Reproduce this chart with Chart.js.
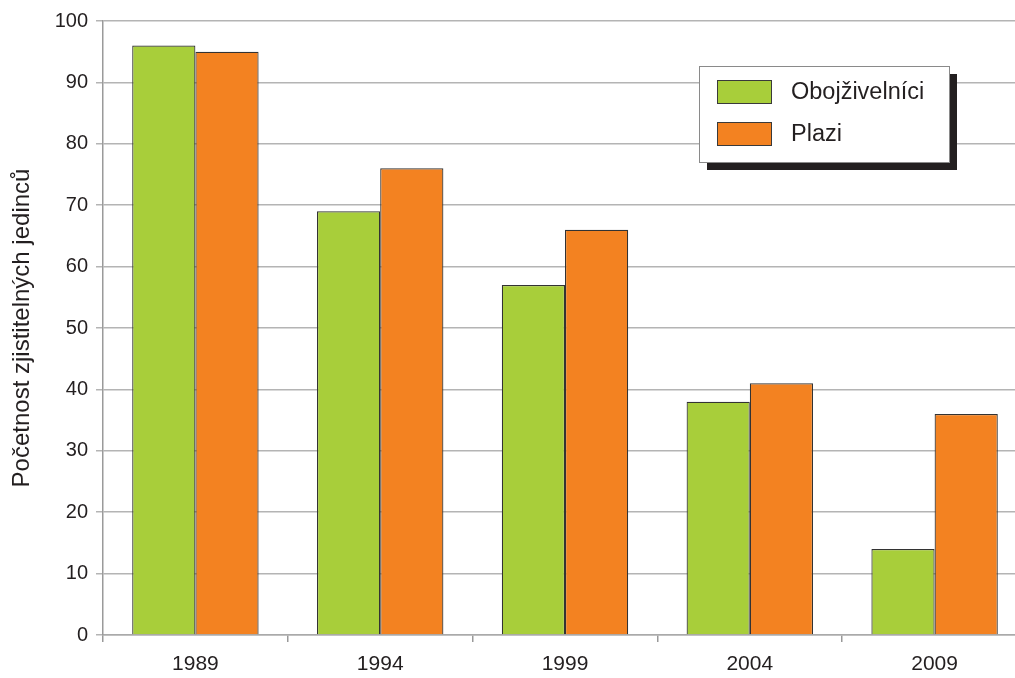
<!DOCTYPE html>
<html>
<head>
<meta charset="utf-8">
<script src="https://cdn.jsdelivr.net/npm/chart.js@4.4.1/dist/chart.umd.min.js"></script>
<style>
  html, body { margin: 0; padding: 0; background: #fff; overflow: hidden; }
  #wrap { position: relative; width: 1028px; height: 678px; }
</style>
</head>
<body>
<div id="wrap"><canvas id="c" width="1028" height="678"></canvas></div>
<script>
const years = ['1989', '1994', '1999', '2004', '2009'];
const obojzivelnici = [96, 69, 57, 38, 14];
const plazi = [95, 76, 66, 41, 36];
const yTicks = [0, 10, 20, 30, 40, 50, 60, 70, 80, 90, 100];

const textColor = '#231f20';
const fontFamily = '"Liberation Sans", Arial, Helvetica, sans-serif';

// Boxed legend with a solid drop shadow, drawn in the upper right of the plot
const boxLegend = {
  id: 'boxLegend',
  afterDraw(chart) {
    const ctx = chart.ctx;
    const x = 699, y = 66, w = 250, h = 96;
    ctx.save();
    ctx.fillStyle = '#231f20';
    ctx.fillRect(x + 8, y + 8, w, h);
    ctx.fillStyle = '#fff';
    ctx.fillRect(x, y, w, h);
    ctx.strokeStyle = '#8a8a8a';
    ctx.lineWidth = 1;
    ctx.strokeRect(x + 0.5, y + 0.5, w, h);
    ctx.font = '23.5px ' + fontFamily;
    ctx.textBaseline = 'middle';
    chart.data.datasets.forEach((ds, i) => {
      const sy = y + 14 + i * 42;
      ctx.fillStyle = ds.backgroundColor;
      ctx.fillRect(x + 18, sy, 55, 24);
      ctx.strokeStyle = '#3a3a3a';
      ctx.strokeRect(x + 18.5, sy + 0.5, 54, 23);
      ctx.fillStyle = textColor;
      ctx.fillText(ds.label, x + 92, sy + 13);
    });
    ctx.restore();
  }
};

new Chart(document.getElementById('c'), {
  type: 'bar',
  data: {
    labels: years,
    datasets: [
      { label: 'Obojživelníci', data: obojzivelnici, backgroundColor: '#a8ce3a', borderColor: '#333', borderWidth: 1.2 },
      { label: 'Plazi', data: plazi, backgroundColor: '#f38221', borderColor: '#333', borderWidth: 1.2 }
    ]
  },
  options: {
    responsive: false,
    animation: false,
    events: [],
    layout: { padding: { left: 0, top: 21, right: 1, bottom: 0 } },
    datasets: { bar: { barPercentage: 1, categoryPercentage: 0.684 } },
    plugins: { legend: { display: false }, tooltip: { enabled: false } },
    scales: {
      x: {
        grid: { drawOnChartArea: false, offset: true, tickLength: 7, color: '#999', lineWidth: 1.5 },
        border: { display: true, color: '#aaa', width: 1.5 },
        ticks: { color: textColor, font: { size: 21, family: fontFamily }, padding: 10 },
        afterFit(scale) { scale.height = 43; }
      },
      y: {
        min: 0, max: 100,
        afterBuildTicks(scale) { scale.ticks = yTicks.map(v => ({ value: v })); },
        grid: { color: '#b4b4b4', lineWidth: 1.5, tickLength: 7 },
        border: { display: true, color: '#9a9a9a', width: 1.5 },
        ticks: { color: textColor, font: { size: 20, family: fontFamily }, padding: 8 },
        title: {
          display: true,
          text: 'Početnost zjistitelných jedinců',
          color: textColor,
          font: { size: 24, family: fontFamily },
          padding: { top: 8, bottom: 0 }
        },
        afterFit(scale) { scale.width = 103; }
      }
    }
  },
  plugins: [boxLegend]
});
</script>
</body>
</html>
